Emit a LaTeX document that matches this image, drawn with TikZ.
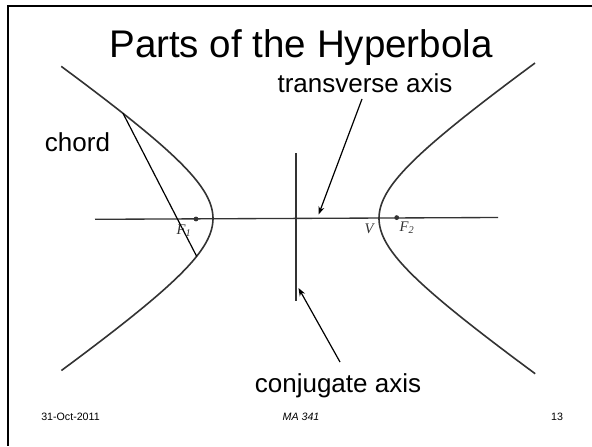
\documentclass[tikz,border=0pt]{standalone}
\usepackage{fontspec}
\setmainfont{Liberation Sans}
\newfontfamily\serifit{Liberation Serif}
\usetikzlibrary{arrows.meta}
\definecolor{curvegray}{HTML}{333333}
\begin{document}
\begin{tikzpicture}[x=0.75pt,y=-0.75pt,
  curve/.style={draw=curvegray,line width=1.2pt},
  axisline/.style={draw=curvegray,line width=1pt},
  chordline/.style={draw=black,line width=0.9pt},
  pointer/.style={draw=black,line width=0.9pt,-{Stealth[length=6pt,width=4.5pt]}},
  lbl/.style={font=\fontsize{19.5}{22}\selectfont,anchor=base,inner sep=0pt},
  mathlbl/.style={font=\fontsize{11}{12}\selectfont\serifit\itshape,text=curvegray,inner sep=0pt},
  focus/.style={circle,fill=curvegray,inner sep=0pt,minimum size=3.6pt},
  foot/.style={font=\fontsize{8}{9}\selectfont,anchor=base,inner sep=0pt}]
\useasboundingbox (0,0) rectangle (592,446);
\fill[white] (0,0) rectangle (592,446);
\draw[line width=1.6pt] (592,6) -- (8,6) -- (8,446);
% title
\node[font=\fontsize{28.9}{32}\selectfont,anchor=base,inner sep=0pt] (title) at (301,57) {Parts of the Hyperbola};
% hyperbola branches
\draw[curve] plot[domain=-1.70:1.70,samples=80,smooth] ({296-83*cosh(\x)},{218.5+57.5*sinh(\x)});
\draw[curve] plot[domain=-1.72:1.72,samples=80,smooth] ({296+83*cosh(\x)},{218.3-57.5*sinh(\x)});
% axes
\coordinate (axL) at (95,219.3);
\coordinate (axR) at (498,217.5);
\draw[axisline] (axL) -- (axR);
\coordinate (cT) at (296,153);
\coordinate (cB) at (296,301);
\draw[axisline] (cT) -- (cB);
% foci and labels
\node[focus] (F1) at (196,219) {};
\node[focus] (F2) at (396.7,217.6) {};
\node[mathlbl] (F1lbl) at (184,231) {F\textsubscript{1}};
\node[mathlbl] (Vlbl) at (369,229) {V};
\node[mathlbl] (F2lbl) at (407,228) {F\textsubscript{2}};
% chord
\coordinate (chA) at (123,113.3);
\coordinate (chB) at (196.7,256.4);
\draw[chordline] (chA) -- (chB);
% labels
\node[lbl] (trans) at (365,92) {transverse axis};
\node[lbl] (chord) at (77.5,151) {chord};
\node[lbl] (conj) at (338,392) {conjugate axis};
% pointers
\coordinate (tT) at (362,99);
\coordinate (tH) at (318.6,214.5);
\draw[pointer] (tT) -- (tH);
\coordinate (kT) at (340,362);
\coordinate (kH) at (298.5,288);
\draw[pointer] (kT) -- (kH);
% footer
\node[foot] (date) at (70.5,420) {31-Oct-2011};
\node[foot,font=\fontsize{8}{9}\selectfont\itshape] (course) at (301,420) {MA 341};
\node[foot] (page) at (557,420) {13};
\end{tikzpicture}
\end{document}
